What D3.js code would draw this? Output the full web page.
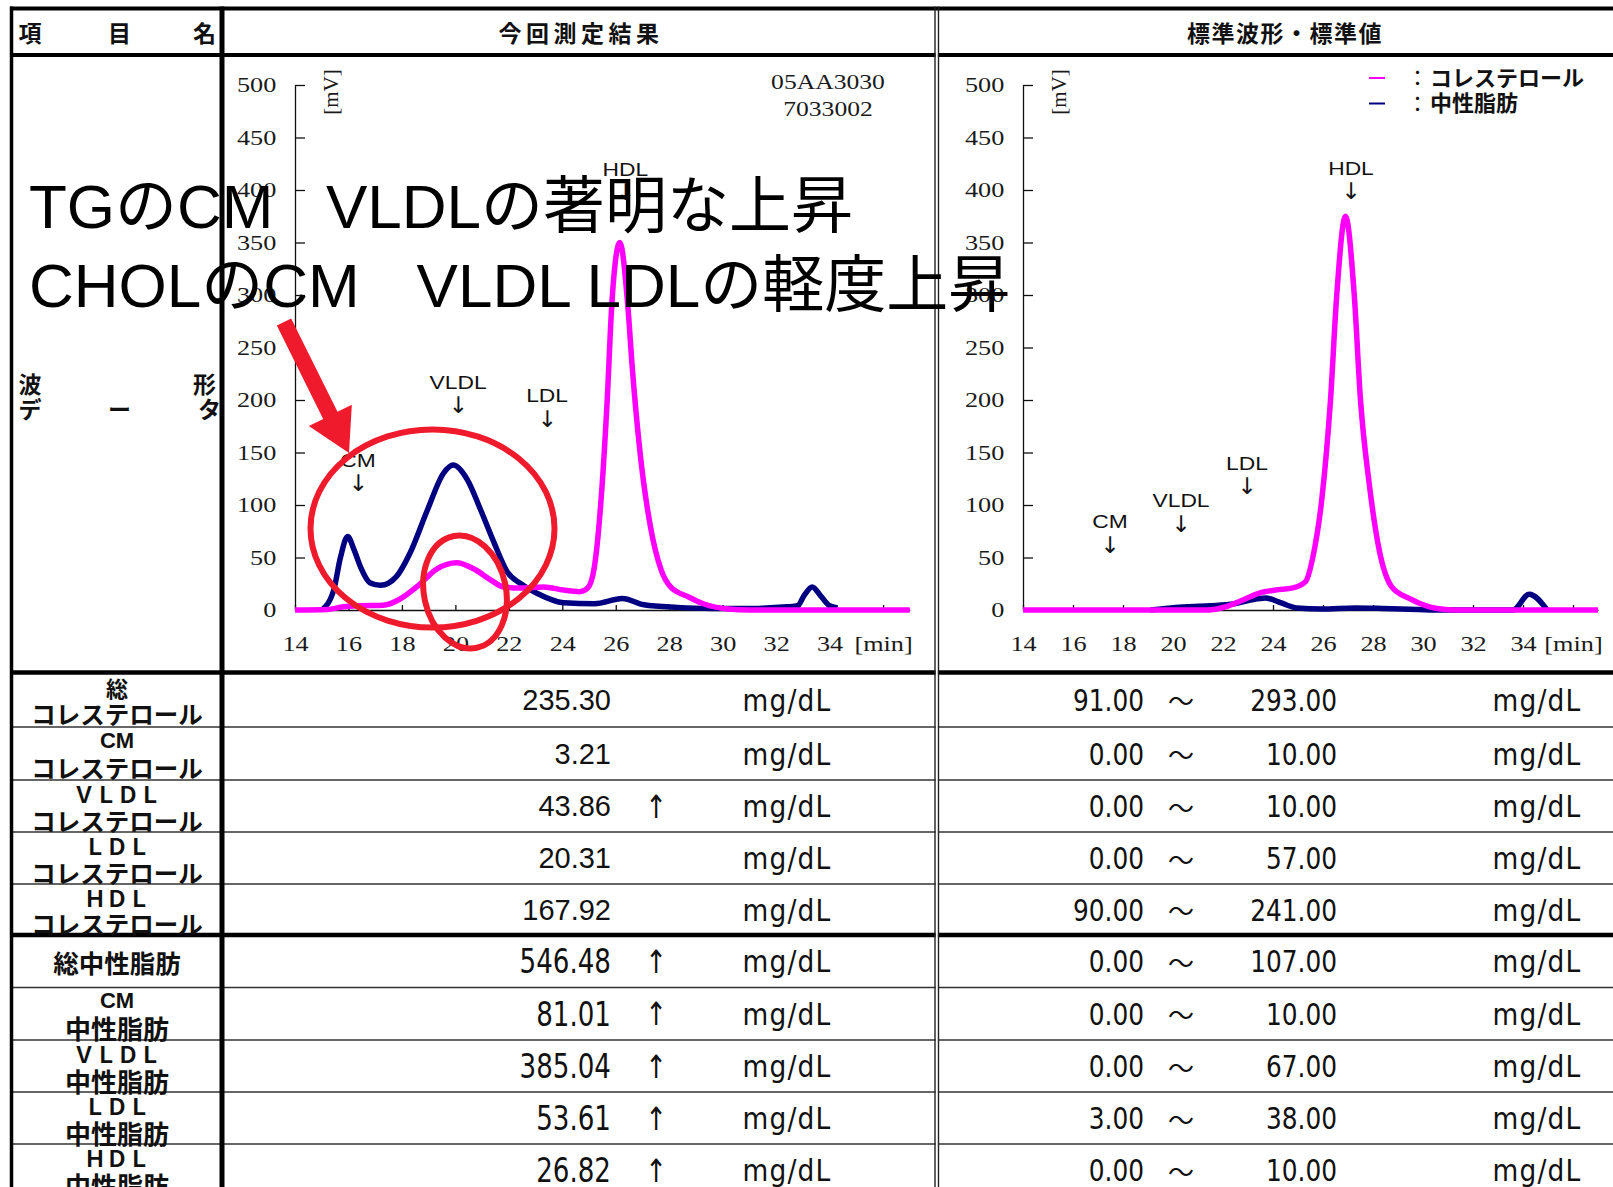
<!DOCTYPE html>
<html>
<head>
<meta charset="utf-8">
<script src="https://cdn.jsdelivr.net/npm/d3@7"></script>
<style>
  body { margin: 0; background: #fff; }
  svg { display: block; }
</style>
</head>
<body>
<div id="chart"></div>
<script>
// ---- data ----
const timeTicks = [14, 16, 18, 20, 22, 24, 26, 28, 30, 32, 34, 36];
const mvTicks = [0, 50, 100, 150, 200, 250, 300, 350, 400, 450, 500];

// current result: cholesterol (magenta) and triglyceride (navy), [min, mV]
const curChol = [[14,0],[15.2,0.5],[15.8,3],[16.4,4],[17.3,4.5],[17.9,10],[18.6,23],[19.3,39],[20.05,45],[20.7,39],
  [21.3,29],[21.8,22],[22.4,21],[23.3,22],[24.05,19],[24.65,17.5],[24.95,21],[25.2,41],[25.45,105],[25.68,200],
  [25.85,290],[26.15,350],[26.45,290],[26.62,230],[26.9,152],[27.3,79],[27.7,38],[28.05,22],[28.7,12.7],
  [29.3,5.7],[30.2,1],[31,0],[37,0]];
const curTG = [[15.0,0],[15.45,19],[15.7,50],[15.97,70],[16.2,58],[16.45,41],[16.8,26],[17.2,23.5],[17.8,32],
  [18.3,54],[18.95,95],[19.55,130],[19.92,138],[20.45,124],[20.95,95],[21.45,64],[21.95,36],[22.45,25],
  [23.05,16],[24.05,7],[25.2,6],[26.25,11],[27.05,5],[28.3,2.5],[29.6,1.5],[31,1.5],[32.4,3],[32.8,4],
  [33.05,14],[33.35,22],[33.65,14],[34.0,4],[34.3,2]];

// standard waveform
const stdChol = [[14,0],[21.4,0],[22.1,3],[22.8,9.5],[23.45,16],[24.1,19],[24.8,21],[25.3,27],[25.6,51],
  [25.95,105],[26.3,200],[26.55,300],[26.9,375],[27.25,300],[27.5,200],[27.85,120],[28.25,57],[28.75,22],
  [29.45,11],[30.25,3],[30.9,0.5],[31.5,0],[37,0]];
const stdTG = [[19.1,0],[20.1,2.5],[21.45,4],[22.45,6],[23.1,9.5],[23.7,11.5],[24.3,7],[24.95,2],[25.95,1],
  [27.3,2],[28.4,1.5],[29.8,0.5],[30.8,0],[33.6,0],[34.25,15],[34.95,0.5]];

const curPeaks = [{name: "CM", t: 16.36, v: 143}, {name: "VLDL", t: 20.1, v: 217},
  {name: "LDL", t: 23.43, v: 204}, {name: "HDL", t: 26.36, v: 420}];
const stdPeaks = [{name: "CM", t: 17.48, v: 84}, {name: "VLDL", t: 20.32, v: 104},
  {name: "LDL", t: 22.96, v: 140}, {name: "HDL", t: 27.12, v: 421}];

const sampleId = ["05AA3030", "7033002"];
const legendNames = ["コレステロール", "中性脂肪"];
const seriesColors = ["#ff00ff", "#000080"];

// table
const headTitles = ["今回測定結果", "標準波形・標準値"];
const itemHead = ["項", "目", "名"];
const rowNames = [["総", "コレステロール"], ["CM", "コレステロール"], ["ＶＬＤＬ", "コレステロール"],
  ["ＬＤＬ", "コレステロール"], ["ＨＤＬ", "コレステロール"], ["総中性脂肪"], ["CM", "中性脂肪"],
  ["ＶＬＤＬ", "中性脂肪"], ["ＬＤＬ", "中性脂肪"], ["ＨＤＬ", "中性脂肪"]];
const results = ["235.30", "3.21", "43.86", "20.31", "167.92", "546.48", "81.01", "385.04", "53.61", "26.82"];
const flags = ["", "", "↑", "", "", "↑", "↑", "↑", "↑", "↑"];
const refLow = ["91.00", "0.00", "0.00", "0.00", "90.00", "0.00", "0.00", "0.00", "3.00", "0.00"];
const refHigh = ["293.00", "10.00", "10.00", "57.00", "241.00", "107.00", "10.00", "67.00", "38.00", "10.00"];
const unit = "mg/dL";

const noteLines = [["TGのCM", "VLDLの著明な上昇"], ["CHOLのCM", "VLDL LDLの軽度上昇"]];

// ---- layout ----
const svgWidth = 1613, svgHeight = 1187;
const rowY = [672.5, 727, 780, 832, 884, 935, 987.5, 1040, 1092, 1144, 1196];
const jp = "'Noto Sans CJK JP', sans-serif";
const sans = "'Liberation Sans', 'Noto Sans CJK JP', sans-serif";
const narrow = "'Liberation Sans Narrow', 'DejaVu Sans Condensed', 'Liberation Sans', sans-serif";
const serif = "'Liberation Serif', serif";

let svg = d3.select("#chart").append("svg")
  .attr("width", svgWidth)
  .attr("height", svgHeight);

svg.append("rect").attr("width", svgWidth).attr("height", svgHeight).attr("fill", "#fff");

// ---- charts ----
function drawChart(x0, x1, chol, tg, peaks) {
  let x = d3.scaleLinear().domain([14, 37]).range([x0, x1]);
  let y = d3.scaleLinear().domain([0, 500]).range([610, 85]);
  let g = svg.append("g");

  let xAxis = g.append("g")
    .attr("transform", "translate(0,610)")
    .call(d3.axisBottom(x).tickValues(timeTicks).tickSizeInner(-5).tickSizeOuter(0)
      .tickPadding(26).tickFormat(d => d === 36 ? "[min]" : d));
  let yAxis = g.append("g")
    .attr("transform", `translate(${x0},0)`)
    .call(d3.axisLeft(y).tickValues(mvTicks).tickSizeInner(-10).tickSizeOuter(0).tickPadding(15));

  [xAxis, yAxis].forEach(a => {
    a.select(".domain").attr("stroke", "#111").attr("stroke-width", 1.3);
    a.selectAll(".tick line").attr("stroke", "#111").attr("stroke-width", 1.3);
    a.selectAll(".tick text")
      .attr("font-family", serif).attr("font-size", 21).attr("fill", "#1a1a1a")
      .attr("transform", "scale(1.25,1)");
  });
  yAxis.selectAll(".tick text").attr("x", -15);

  g.append("text")
    .attr("transform", `translate(${x0 + 36},92) rotate(-90)`)
    .attr("text-anchor", "middle").attr("dy", "0.35em")
    .attr("font-family", serif).attr("font-size", 21).attr("fill", "#1a1a1a")
    .text("[mV]");

  let line = d3.line().x(d => x(d[0])).y(d => y(d[1])).curve(d3.curveMonotoneX);

  g.append("path").datum(tg).attr("d", line)
    .attr("fill", "none").attr("stroke", seriesColors[1]).attr("stroke-width", 5.5)
    .attr("stroke-linejoin", "round");
  g.append("path").datum(chol).attr("d", line)
    .attr("fill", "none").attr("stroke", seriesColors[0]).attr("stroke-width", 5.5)
    .attr("stroke-linejoin", "round");

  let pk = g.selectAll(".peak").data(peaks).enter().append("g")
    .attr("transform", d => `translate(${x(d.t)},${y(d.v)})`);
  pk.append("text")
    .attr("text-anchor", "middle").attr("dy", "0.35em")
    .attr("transform", "scale(1.2,1)")
    .attr("font-family", sans).attr("font-size", 19).attr("fill", "#111")
    .text(d => d.name);
  pk.append("text")
    .attr("text-anchor", "middle").attr("y", 23).attr("dy", "0.35em")
    .attr("font-family", "'DejaVu Sans', sans-serif").attr("font-size", 23).attr("fill", "#111")
    .text("↓");
  return g;
}

let leftChart = drawChart(295, 909.8, curChol, curTG, curPeaks);
let rightChart = drawChart(1023, 1598, stdChol, stdTG, stdPeaks);

leftChart.selectAll(".sid").data(sampleId).enter().append("text")
  .attr("transform", (d, i) => `translate(828,${89 + i * 27}) scale(1.22,1)`)
  .attr("text-anchor", "middle")
  .attr("font-family", serif).attr("font-size", 21).attr("fill", "#1a1a1a")
  .text(d => d);

let leg = rightChart.selectAll(".leg").data(legendNames).enter().append("g")
  .attr("transform", (d, i) => `translate(1369,${78 + i * 25.5})`);
leg.append("line").attr("x1", 0).attr("x2", 16)
  .attr("stroke", (d, i) => seriesColors[i]).attr("stroke-width", 2);
leg.append("text").attr("x", 38).attr("dy", "0.35em")
  .attr("font-family", jp).attr("font-size", 21).attr("fill", "#111").text("：");
leg.append("text").attr("x", 61).attr("dy", "0.36em")
  .attr("font-family", jp).attr("font-weight", "bold").attr("font-size", 22).attr("fill", "#111").text(d => d);

// ---- table ----
let tbl = svg.append("g");
function hline(yv, w, col) {
  tbl.append("line").attr("x1", 10).attr("x2", svgWidth).attr("y1", yv).attr("y2", yv)
    .attr("stroke", col || "#000").attr("stroke-width", w);
}
hline(8.5, 4);
hline(55, 4);
rowY.forEach((yv, i) => {
  if (i === 0 || i === 5) hline(yv, 4.5);
  else if (i < rowY.length - 1) hline(yv, 1.6, "#333");
});
tbl.append("line").attr("x1", 11.5).attr("x2", 11.5).attr("y1", 6.5).attr("y2", svgHeight)
  .attr("stroke", "#000").attr("stroke-width", 3.5);
tbl.append("line").attr("x1", 222).attr("x2", 222).attr("y1", 6.5).attr("y2", svgHeight)
  .attr("stroke", "#000").attr("stroke-width", 5);
tbl.append("rect").attr("x", 935.6).attr("y", 11).attr("width", 2.3).attr("height", svgHeight)
  .attr("fill", "#fff");
[935, 938.5].forEach(xv => {
  tbl.append("line").attr("x1", xv).attr("x2", xv).attr("y1", 6.5).attr("y2", svgHeight)
    .attr("stroke", "#222").attr("stroke-width", 1.4);
});

// squeezed text helper (x, y given in page pixels)
function cellText(str, xv, yv, anchor, family, size, sx, extra) {
  let t = tbl.append("text")
    .attr("transform", `translate(${xv},${yv}) scale(${sx},1)`)
    .attr("dy", "0.36em").attr("text-anchor", anchor)
    .attr("font-family", family).attr("font-size", size).attr("fill", "#111")
    .text(str);
  if (extra) extra(t);
  return t;
}

// header row
tbl.selectAll(".ih").data(itemHead).enter().append("text")
  .attr("x", (d, i) => [18.5, 108, 193][i]).attr("y", 31.5).attr("dominant-baseline", "central")
  .attr("font-family", jp).attr("font-weight", "bold").attr("font-size", 23).attr("fill", "#111")
  .text(d => d);
tbl.selectAll(".hh").data(headTitles).enter().append("text")
  .attr("x", (d, i) => [581, 1285][i]).attr("y", 31.5).attr("dominant-baseline", "central")
  .attr("text-anchor", "middle").attr("letter-spacing", (d, i) => [4.5, 1.5][i])
  .attr("font-family", jp).attr("font-weight", "bold").attr("font-size", 23).attr("fill", "#111")
  .text(d => d);

// waveform row label
[["波", 18.5, 383], ["形", 193, 383], ["デ", 18.5, 408], ["ー", 108, 408], ["タ", 198, 408]].forEach(c => {
  tbl.append("text").attr("x", c[1]).attr("y", c[2]).attr("dominant-baseline", "central")
    .attr("font-family", jp).attr("font-weight", "bold").attr("font-size", 23).attr("fill", "#111")
    .text(c[0]);
});

// data rows
rowNames.forEach((names, i) => {
  let cy = (rowY[i] + rowY[i + 1]) / 2;
  let tg = i >= 5;
  if (names.length === 1) {
    tbl.append("text").attr("x", 117).attr("y", cy).attr("dominant-baseline", "central")
      .attr("text-anchor", "middle")
      .attr("font-family", jp).attr("font-weight", "bold").attr("font-size", 25.5).attr("fill", "#111")
      .text(names[0]);
  } else {
    tbl.append("text").attr("x", 117).attr("y", cy - 13).attr("dominant-baseline", "central")
      .attr("text-anchor", "middle")
      .attr("font-family", names[0] === "CM" ? sans : jp).attr("font-weight", "bold")
      .attr("font-size", names[0] === "CM" ? 22 : 22).attr("fill", "#111")
      .text(names[0]);
    tbl.append("text").attr("x", 117).attr("y", cy + 14).attr("dominant-baseline", "central")
      .attr("text-anchor", "middle")
      .attr("font-family", jp).attr("font-weight", "bold").attr("font-size", tg ? 26 : 24.5).attr("fill", "#111")
      .text(names[1]);
  }
  if (tg) cellText(results[i], 611, cy, "end", narrow, 33, 0.88);
  else cellText(results[i], 611, cy, "end", sans, 29, 1);
  if (flags[i]) cellText(flags[i], 656, cy, "middle", narrow, 32, 0.9);
  cellText(unit, 787, cy, "middle", narrow, 31, 0.95, t => t.attr("letter-spacing", 1.2));
  cellText(refLow[i], 1144, cy, "end", narrow, 31, 0.89);
  tbl.append("text").attr("x", 1181).attr("y", cy).attr("dominant-baseline", "central").attr("text-anchor", "middle")
    .attr("font-family", jp).attr("font-size", 26).attr("fill", "#111")
    .text("～");
  cellText(refHigh[i], 1337, cy, "end", narrow, 31, 0.89);
  cellText(unit, 1537, cy, "middle", narrow, 31, 0.95, t => t.attr("letter-spacing", 1.2));
});

// ---- annotations on top ----
let ann = svg.append("g");
const noteX = [[29, 326], [29, 416.6]];
const noteBase = [228, 306.5];
noteLines.forEach((ln, i) => {
  ln.forEach((part, j) => {
    ann.append("text").attr("x", noteX[i][j]).attr("y", noteBase[i])
      .attr("font-family", sans).attr("font-size", 62).attr("fill", "#000")
      .text(part);
  });
});

const red = "#ef1b2d";
ann.append("ellipse").attr("cx", 432.5).attr("cy", 528.5).attr("rx", 122).attr("ry", 99)
  .attr("fill", "none").attr("stroke", red).attr("stroke-width", 6);
ann.append("ellipse").attr("transform", "translate(465,592) rotate(-12)")
  .attr("rx", 41).attr("ry", 57)
  .attr("fill", "none").attr("stroke", red).attr("stroke-width", 6);

// arrow pointing at the CM/VLDL peaks
let S = [284, 322], T = [349, 453];
let len = Math.hypot(T[0] - S[0], T[1] - S[1]);
let d = [(T[0] - S[0]) / len, (T[1] - S[1]) / len];
let n = [d[1], -d[0]];
let B = [T[0] - 42 * d[0], T[1] - 42 * d[1]];
let pt = (p, k) => [p[0] + k * n[0], p[1] + k * n[1]];
let arrowPts = [pt(S, 8), pt(B, 8), pt(B, 24), T, pt(B, -24), pt(B, -8), pt(S, -8)];
ann.append("polygon").attr("points", arrowPts.map(p => p.join(",")).join(" ")).attr("fill", red);
</script>
</body>
</html>
